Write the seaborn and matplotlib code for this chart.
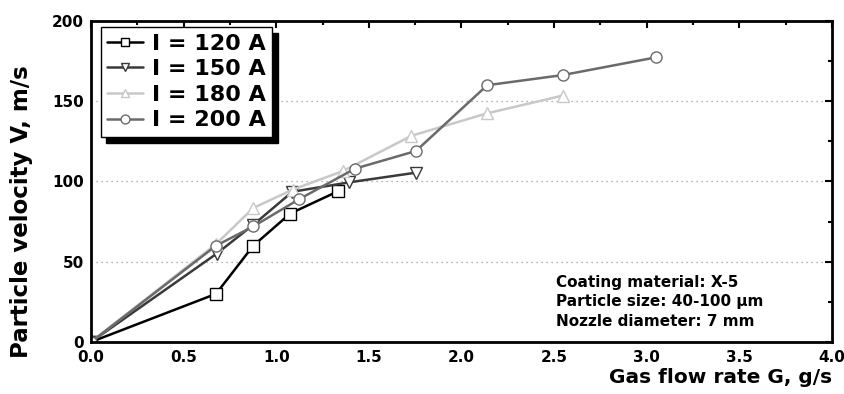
import matplotlib
matplotlib.use("Agg")
import matplotlib.pyplot as plt
import seaborn as sns
import pandas as pd
from matplotlib.ticker import MultipleLocator, FormatStrFormatter

sns.set_style("white")
plt.rcParams['font.family'] = ['DejaVu Sans']
plt.rcParams['font.weight'] = 'bold'
plt.rcParams['text.color'] = 'black'
plt.rcParams['axes.labelcolor'] = 'black'
plt.rcParams['xtick.color'] = 'black'
plt.rcParams['ytick.color'] = 'black'

labels = ["I = 120 A", "I = 150 A", "I = 180 A", "I = 200 A"]
x120 = [0.0, 0.675, 0.876, 1.075, 1.335]
y120 = [0, 30, 60, 80, 94]
x150 = [0.0, 0.678, 0.876, 1.087, 1.395, 1.754]
y150 = [0, 55, 73, 93.6, 99.5, 105.5]
x180 = [0.0, 0.675, 0.876, 1.09, 1.36, 1.73, 2.139, 2.546]
y180 = [0, 61, 83.5, 95, 106.5, 128.5, 142.5, 153.5]
x200 = [0.0, 0.675, 0.876, 1.124, 1.425, 1.754, 2.139, 2.546, 3.048]
y200 = [0, 60, 72, 89, 108, 119, 160, 166.3, 177.3]

xs = [x120, x150, x180, x200]
ys = [y120, y150, y180, y200]
colors = ["#000000", "#3a3a3a", "#c8c8c8", "#6a6a6a"]
markers = ["s", "v", "^", "o"]

fig = plt.figure(figsize=(8.44, 3.94), dpi=100)
ax = fig.add_axes([0.1078, 0.132, 0.878, 0.8147])

for lab, x, y, c, m in zip(labels, xs, ys, colors, markers):
    df = pd.DataFrame({"G": x, "V": y})
    sns.lineplot(data=df, x="G", y="V", ax=ax, color=c, marker=m, markersize=8,
                 markerfacecolor="white", markeredgecolor=c, markeredgewidth=1.0,
                 linewidth=1.8, label=lab, sort=False)

ax.set_xlim(0, 4.0)
ax.set_ylim(0, 200)
ax.xaxis.set_major_locator(MultipleLocator(0.5))
ax.xaxis.set_minor_locator(MultipleLocator(0.25))
ax.yaxis.set_major_locator(MultipleLocator(50))
ax.yaxis.set_minor_locator(MultipleLocator(25))
ax.tick_params(which='both', direction='in', top=True, right=True, width=1.5, colors='black')
ax.tick_params(which='major', length=5, labelsize=11)
ax.tick_params(axis='x', which='major', pad=6)
ax.tick_params(axis='y', which='major', pad=5)
ax.tick_params(which='minor', length=3)
ax.xaxis.set_major_formatter(FormatStrFormatter('%.1f'))
for t in ax.get_xticklabels() + ax.get_yticklabels():
    t.set_fontweight('bold')

for yv in [50, 100, 150]:
    ax.axhline(yv, color='#999999', linestyle=(0, (1, 3)), linewidth=0.9, zorder=0)

for s in ax.spines.values():
    s.set_linewidth(2.0)
    s.set_color('black')

ax.set_xlabel("Gas flow rate G, g/s", fontsize=14.5, fontweight='bold', loc='right', labelpad=2)
ax.set_ylabel("Particle velocity V, m/s", fontsize=16.5, fontweight='bold')
ax.yaxis.set_label_coords(-0.078, 0.405)

leg = ax.legend(loc='upper left', bbox_to_anchor=(0.007, 0.995), fontsize=16, frameon=True,
                fancybox=False, shadow={'color': 'black', 'alpha': 1.0, 'ox': 4, 'oy': -4},
                edgecolor='black', handlelength=1.6, handletextpad=0.4, borderpad=0.3,
                labelspacing=0.25, borderaxespad=0.2, markerscale=0.8)
leg.get_frame().set_linewidth(1.0)
for t in leg.get_texts():
    t.set_fontweight('bold')
    t.set_color('black')

ax.text(0.627, 0.125, "Coating material: X-5\nParticle size: 40-100 μm\nNozzle diameter: 7 mm",
        transform=ax.transAxes, fontsize=11, fontweight='bold', va='center', ha='left',
        linespacing=1.4)

fig.savefig("out.png", dpi=100)
